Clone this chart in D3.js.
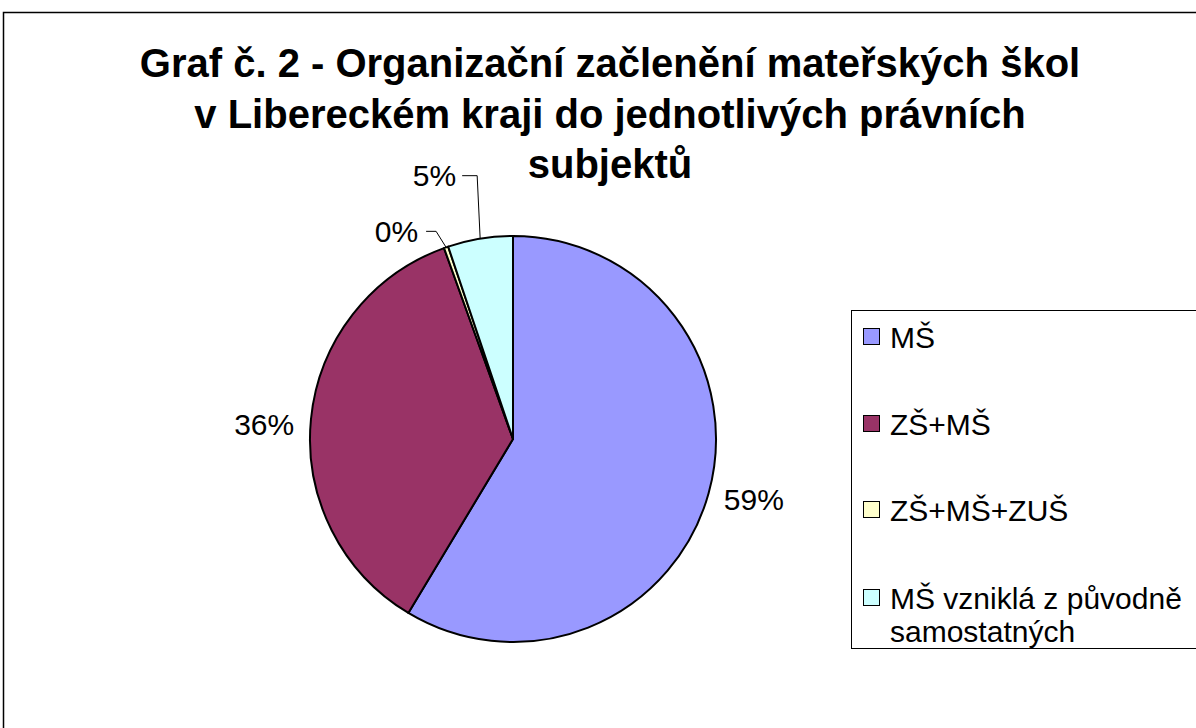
<!DOCTYPE html>
<html>
<head>
<meta charset="utf-8">
<script src="https://cdn.jsdelivr.net/npm/d3@7"></script>
<style>
  body { margin: 0; background: #fff; }
  text { font-family: "Liberation Sans", Arial, sans-serif; fill: #000; }
</style>
</head>
<body>
<div id="chart"></div>
<script>
var svgWidth = 1196;
var svgHeight = 728;

// data
var categories = ["MŠ", "ZŠ+MŠ", "ZŠ+MŠ+ZUŠ", "MŠ vzniklá z původně samostatných"];
var counts = [170, 104, 1, 15];
var colors = ["#9999FF", "#993366", "#FFFFCC", "#CCFFFF"];
var titleLines = ["Graf č. 2 - Organizační začlenění mateřských škol",
                  "v Libereckém kraji do jednotlivých právních",
                  "subjektů"];
var legendLines = [["MŠ"], ["ZŠ+MŠ"], ["ZŠ+MŠ+ZUŠ"], ["MŠ vzniklá z původně", "samostatných"]];

var cx = 513, cy = 439, radius = 203;

var svg = d3.select("#chart")
  .append("svg")
  .attr("width", svgWidth)
  .attr("height", svgHeight);

// outer frame
svg.append("rect")
  .attr("x", 3.5)
  .attr("y", 12.5)
  .attr("width", svgWidth + 10)
  .attr("height", svgHeight + 10)
  .attr("fill", "none")
  .attr("stroke", "#000")
  .attr("stroke-width", 1.5);

// title
svg.append("g")
  .selectAll("text")
  .data(titleLines)
  .enter()
  .append("text")
  .attr("x", 610)
  .attr("y", (d, i) => 77 + i * 50.5)
  .attr("text-anchor", "middle")
  .attr("font-size", 40)
  .attr("font-weight", "bold")
  .text(d => d);

var total = d3.sum(counts);
var pie = d3.pie().sort(null).value(d => d);
var arcs = pie(counts);
var arc = d3.arc().innerRadius(0).outerRadius(radius);

var chartGroup = svg.append("g")
  .attr("transform", `translate(${cx}, ${cy})`);

chartGroup.selectAll("path")
  .data(arcs)
  .enter()
  .append("path")
  .attr("d", arc)
  .attr("fill", (d, i) => colors[i])
  .attr("stroke", "#000")
  .attr("stroke-width", 2)
  .attr("stroke-linejoin", "round");

// percentage labels
var labelArc = d3.arc().innerRadius(250).outerRadius(250);
// Excel-like placement tweaks; small slices get a leader line
var labelTweak = [
  {dy: -6},
  {dy: 10},
  {leader: true, dy: -16, elbow: -10, tail: -20, text: -28},
  {leader: true, dy: -63, elbow: -3, tail: -18, text: -24}
];

arcs.forEach(function(d, i) {
  var pct = Math.round(d.value / total * 100) + "%";
  var mid = (d.startAngle + d.endAngle) / 2;
  var t = labelTweak[i];
  if (!t.leader) {
    var c = labelArc.centroid(d);
    chartGroup.append("text")
      .attr("x", c[0])
      .attr("y", c[1] + t.dy)
      .attr("dy", "0.35em")
      .attr("text-anchor", "middle")
      .attr("font-size", 30)
      .text(pct);
  } else {
    var ex = Math.sin(mid) * radius;
    var ey = -Math.cos(mid) * radius;
    var ly = ey + t.dy;
    chartGroup.append("path")
      .attr("d", `M${ex},${ey} L${ex + t.elbow},${ly} L${ex + t.tail},${ly}`)
      .attr("fill", "none")
      .attr("stroke", "#000")
      .attr("stroke-width", 1);
    chartGroup.append("text")
      .attr("x", ex + t.text)
      .attr("y", ly)
      .attr("dy", "0.35em")
      .attr("text-anchor", "end")
      .attr("font-size", 30)
      .text(pct);
  }
});

// legend
var legend = svg.append("g");
legend.append("rect")
  .attr("x", 851.5)
  .attr("y", 310.5)
  .attr("width", 360)
  .attr("height", 338)
  .attr("fill", "#fff")
  .attr("stroke", "#000")
  .attr("stroke-width", 1);

var legendY = [337, 424, 510, 598];
legendLines.forEach(function(lines, i) {
  legend.append("rect")
    .attr("x", 863.5)
    .attr("y", legendY[i] - 8.5)
    .attr("width", 16)
    .attr("height", 16)
    .attr("fill", colors[i])
    .attr("stroke", "#000")
    .attr("stroke-width", 1);
  lines.forEach(function(t, j) {
    legend.append("text")
      .attr("x", 890)
      .attr("y", legendY[i] + j * 33)
      .attr("dy", "0.35em")
      .attr("font-size", 30)
      .text(t);
  });
});
</script>
</body>
</html>
